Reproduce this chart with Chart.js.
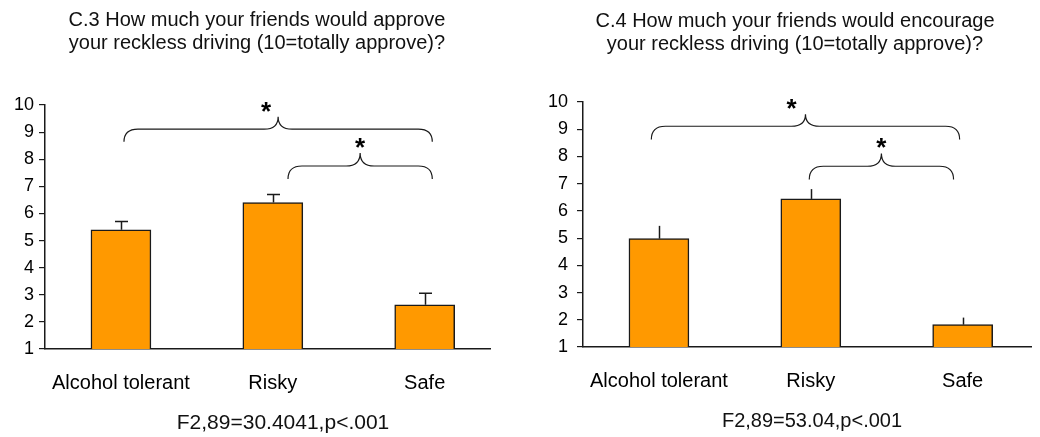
<!DOCTYPE html>
<html>
<head>
<meta charset="utf-8">
<title>Friends' approval of reckless driving</title>
<script src="https://cdn.jsdelivr.net/npm/chart.js@4.4.1/dist/chart.umd.min.js"></script>
<style>
  body { margin: 0; background: #fff; }
  .row { display: flex; width: 1040px; }
  canvas { display: block; }
</style>
</head>
<body>
<div class="row">
  <canvas id="approveChart" width="520" height="437"></canvas>
  <canvas id="encourageChart" width="520" height="437"></canvas>
</div>
<script>
// groups and scale
const groups = ["Alcohol tolerant", "Risky", "Safe"];
const yTickValues = [1, 2, 3, 4, 5, 6, 7, 8, 9, 10];

// C.3 approve
const approveMeans = [5.4, 6.4, 2.63];
const approveErrors = [0.3, 0.3, 0.43];
const approveTitle = ["C.3 How much your friends would approve", "your reckless driving (10=totally approve)?"];
const approveStat = "F2,89=30.4041,p<.001";

// C.4 encourage
const encourageMeans = [4.98, 6.44, 1.82];
const encourageErrors = [0.47, 0.36, 0.26];
const encourageTitle = ["C.4 How much your friends would encourage", "your reckless driving (10=totally approve)?"];
const encourageStat = "F2,89=53.04,p<.001";

const FONT = "'Liberation Sans', Arial, sans-serif";
const INK = "#1a1a1a";

// error bars, significance braces, title and F-test line
const panelDecor = {
    id: "panelDecor",
    afterDraw(chart, args, opts) {
        const ctx = chart.ctx;
        const x = chart.scales.x;
        const y = chart.scales.y;
        const means = chart.data.datasets[0].data.map(d => d.y);

        ctx.save();
        ctx.strokeStyle = INK;
        ctx.lineWidth = 1.5;
        means.forEach((m, i) => {
            const px = Math.round(x.getPixelForValue(i)) + 0.5;
            const top = y.getPixelForValue(m + opts.errors[i]);
            ctx.beginPath();
            ctx.moveTo(px, y.getPixelForValue(m));
            ctx.lineTo(px, top);
            if (opts.capWidth) {
                ctx.moveTo(px - opts.capWidth / 2, top);
                ctx.lineTo(px + opts.capWidth / 2, top);
            }
            ctx.stroke();
        });

        ctx.lineWidth = 1.2;
        ctx.fillStyle = "#000";
        opts.braces.forEach(b => {
            const x1 = x.getPixelForValue(b.from);
            const x2 = x.getPixelForValue(b.to);
            const xm = (x1 + x2) / 2;
            const yl = y.getPixelForValue(b.line);
            const ye = y.getPixelForValue(b.end);
            const yp = y.getPixelForValue(b.peak);
            const r = 14;
            ctx.beginPath();
            ctx.moveTo(x1, ye);
            ctx.quadraticCurveTo(x1, yl, x1 + r, yl);
            ctx.lineTo(xm - r, yl);
            ctx.quadraticCurveTo(xm, yl, xm, yp);
            ctx.quadraticCurveTo(xm, yl, xm + r, yl);
            ctx.lineTo(x2 - r, yl);
            ctx.quadraticCurveTo(x2, yl, x2, ye);
            ctx.stroke();

            ctx.font = "bold 26px " + FONT;
            ctx.textAlign = "center";
            ctx.textBaseline = "alphabetic";
            ctx.fillText("*", xm + b.starDx, yp + 3);
        });

        ctx.fillStyle = "#111";
        ctx.textAlign = "center";
        ctx.font = "20px " + FONT;
        opts.title.forEach((line, i) => {
            ctx.fillText(line, opts.titleX, opts.titleY[i]);
        });
        ctx.font = opts.statSize + "px " + FONT;
        ctx.fillText(opts.stat, opts.statX, opts.statY);
        ctx.restore();
    }
};

function makePanel(canvasId, p) {
    return new Chart(document.getElementById(canvasId), {
        type: "bar",
        data: {
            datasets: [{
                data: p.means.map((v, i) => ({ x: i, y: v })),
                backgroundColor: "#FF9900",
                borderColor: INK,
                borderWidth: 1.5,
                borderSkipped: "start",
                barThickness: 60
            }]
        },
        options: {
            responsive: false,
            animation: false,
            devicePixelRatio: 1,
            layout: {
                padding: { top: p.padTop, right: p.padRight, left: 0, bottom: 0 }
            },
            plugins: {
                legend: { display: false },
                tooltip: { enabled: false },
                panelDecor: {
                    errors: p.errors,
                    capWidth: p.capWidth,
                    braces: p.braces,
                    title: p.title,
                    titleX: p.titleX,
                    titleY: p.titleY,
                    stat: p.stat,
                    statSize: p.statSize,
                    statX: p.statX,
                    statY: p.statY
                }
            },
            scales: {
                x: {
                    type: "linear",
                    offset: false,
                    min: -0.5,
                    max: p.xMax,
                    afterBuildTicks: s => { s.ticks = groups.map((g, i) => ({ value: i })); },
                    afterFit: s => { s.height = p.xHeight; },
                    grid: { display: false, drawTicks: false, offset: false },
                    border: { display: true, color: INK, width: 1.5 },
                    ticks: {
                        autoSkip: false,
                        maxRotation: 0,
                        padding: 22,
                        color: "#000",
                        font: { family: FONT, size: 20 },
                        callback: v => groups[v]
                    }
                },
                y: {
                    min: 1,
                    max: 10,
                    afterBuildTicks: s => { s.ticks = yTickValues.map(v => ({ value: v })); },
                    afterFit: s => { s.width = p.yWidth; },
                    grid: {
                        display: true,
                        drawOnChartArea: false,
                        drawTicks: true,
                        tickLength: 6,
                        color: INK,
                        lineWidth: 1.2
                    },
                    border: { display: true, color: INK, width: 1.5 },
                    ticks: {
                        padding: p.yTickGap,
                        color: "#000",
                        font: { family: FONT, size: 18 }
                    }
                }
            }
        },
        plugins: [panelDecor]
    });
}

makePanel("approveChart", {
    means: approveMeans,
    errors: approveErrors,
    capWidth: 13,
    title: approveTitle,
    titleX: 257,
    titleY: [26, 49],
    stat: approveStat,
    statSize: 21,
    statX: 283,
    statY: 429,
    padTop: 105,
    padRight: 30,
    yWidth: 45,
    yTickGap: 5,
    xHeight: 88,
    xMax: 2.43,
    braces: [
        { from: 0.02, to: 2.05, end: 8.64, line: 9.11, peak: 9.57, starDx: -12 },
        { from: 1.1, to: 2.05, end: 7.27, line: 7.75, peak: 8.23, starDx: 0 }
    ]
});

makePanel("encourageChart", {
    means: encourageMeans,
    errors: encourageErrors,
    capWidth: 0,
    title: encourageTitle,
    titleX: 275,
    titleY: [27, 50],
    stat: encourageStat,
    statSize: 20,
    statX: 292,
    statY: 427,
    padTop: 102,
    padRight: 9,
    yWidth: 63,
    yTickGap: 9,
    xHeight: 90,
    xMax: 2.45,
    braces: [
        { from: -0.05, to: 1.98, end: 8.62, line: 9.11, peak: 9.55, starDx: -14 },
        { from: 0.99, to: 1.94, end: 7.15, line: 7.64, peak: 8.11, starDx: 0 }
    ]
});
</script>
</body>
</html>
